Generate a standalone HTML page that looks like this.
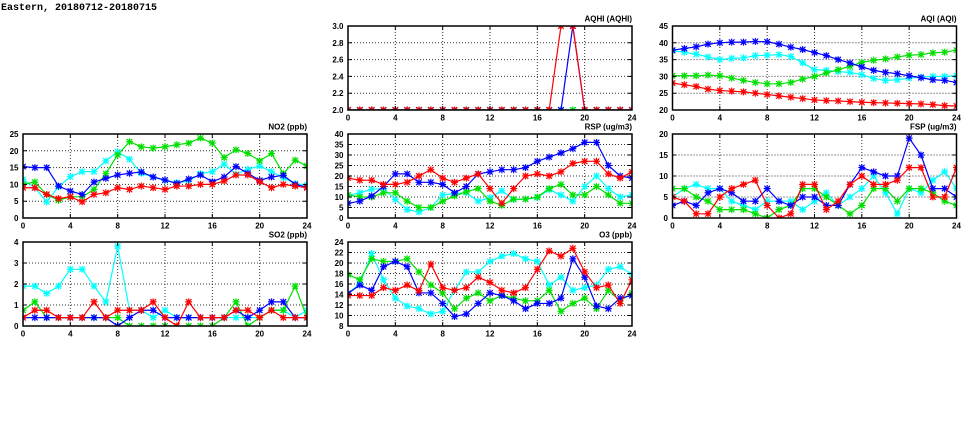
<!DOCTYPE html>
<html>
<head>
<meta charset="utf-8">
<style>
html,body{margin:0;padding:0;background:#fff;}
svg{display:block;}
text{font-family:"Liberation Sans",sans-serif;font-weight:bold;font-size:8px;fill:#000;}
.t{font-family:"Liberation Mono",monospace;font-size:10px;}
.e{text-anchor:end;}
.m{text-anchor:middle;}
.l{fill:none;stroke-width:1.2;vector-effect:non-scaling-stroke;stroke-linejoin:round;}
.c{stroke:#00ffff;} .g{stroke:#00e000;} .b{stroke:#0000ff;} .r{stroke:#ff0000;}
.grid{fill:none;stroke:#333;stroke-width:1;stroke-dasharray:1 2;}
.tk{fill:none;stroke:#000;stroke-width:1;}
.bx{fill:none;stroke:#000;stroke-width:1.5;}
</style>
</head>
<body>
<svg width="975" height="447" viewBox="0 0 975 447" xmlns="http://www.w3.org/2000/svg">
<defs>
<g id="sc" stroke="#00ffff" stroke-width="1.1"><rect x="-2.5" y="-2.5" width="5" height="5" fill="#00ffff" fill-opacity=".3" stroke="none"/><path d="M-3.5 0H3.5M0-3.5V3.5M-2.8-2.8L2.8 2.8M-2.8 2.8L2.8-2.8"/></g>
<g id="sg" stroke="#00e000" stroke-width="1.1"><rect x="-2.5" y="-2.5" width="5" height="5" fill="#00e000" fill-opacity=".3" stroke="none"/><path d="M-3.5 0H3.5M0-3.5V3.5M-2.8-2.8L2.8 2.8M-2.8 2.8L2.8-2.8"/></g>
<g id="sb" stroke="#0000ff" stroke-width="1.1"><rect x="-2.5" y="-2.5" width="5" height="5" fill="#0000ff" fill-opacity=".3" stroke="none"/><path d="M-3.5 0H3.5M0-3.5V3.5M-2.8-2.8L2.8 2.8M-2.8 2.8L2.8-2.8"/></g>
<g id="sr" stroke="#ff0000" stroke-width="1.1"><rect x="-2.5" y="-2.5" width="5" height="5" fill="#ff0000" fill-opacity=".3" stroke="none"/><path d="M-3.5 0H3.5M0-3.5V3.5M-2.8-2.8L2.8 2.8M-2.8 2.8L2.8-2.8"/></g>

<marker id="Ac" viewBox="-3.5 -3.5 7 7" preserveAspectRatio="none" markerUnits="userSpaceOnUse" markerWidth="0.5915" markerHeight="2.0833" refX="0" refY="0" overflow="visible"><use href="#sc"/></marker>
<marker id="Ag" viewBox="-3.5 -3.5 7 7" preserveAspectRatio="none" markerUnits="userSpaceOnUse" markerWidth="0.5915" markerHeight="2.0833" refX="0" refY="0" overflow="visible"><use href="#sg"/></marker>
<marker id="Ab" viewBox="-3.5 -3.5 7 7" preserveAspectRatio="none" markerUnits="userSpaceOnUse" markerWidth="0.5915" markerHeight="2.0833" refX="0" refY="0" overflow="visible"><use href="#sb"/></marker>
<marker id="Ar" viewBox="-3.5 -3.5 7 7" preserveAspectRatio="none" markerUnits="userSpaceOnUse" markerWidth="0.5915" markerHeight="2.0833" refX="0" refY="0" overflow="visible"><use href="#sr"/></marker>

<marker id="Sc" viewBox="-3.5 -3.5 7 7" preserveAspectRatio="none" markerUnits="userSpaceOnUse" markerWidth="0.5915" markerHeight="0.3333" refX="0" refY="0" overflow="visible"><use href="#sc"/></marker>
<marker id="Sg" viewBox="-3.5 -3.5 7 7" preserveAspectRatio="none" markerUnits="userSpaceOnUse" markerWidth="0.5915" markerHeight="0.3333" refX="0" refY="0" overflow="visible"><use href="#sg"/></marker>
<marker id="Sb" viewBox="-3.5 -3.5 7 7" preserveAspectRatio="none" markerUnits="userSpaceOnUse" markerWidth="0.5915" markerHeight="0.3333" refX="0" refY="0" overflow="visible"><use href="#sb"/></marker>
<marker id="Sr" viewBox="-3.5 -3.5 7 7" preserveAspectRatio="none" markerUnits="userSpaceOnUse" markerWidth="0.5915" markerHeight="0.3333" refX="0" refY="0" overflow="visible"><use href="#sr"/></marker>

<marker id="Hc" viewBox="-3.5 -3.5 7 7" preserveAspectRatio="none" markerUnits="userSpaceOnUse" markerWidth="0.5915" markerHeight="0.08333" refX="0" refY="0" overflow="visible"><use href="#sc"/></marker>
<marker id="Hg" viewBox="-3.5 -3.5 7 7" preserveAspectRatio="none" markerUnits="userSpaceOnUse" markerWidth="0.5915" markerHeight="0.08333" refX="0" refY="0" overflow="visible"><use href="#sg"/></marker>
<marker id="Hb" viewBox="-3.5 -3.5 7 7" preserveAspectRatio="none" markerUnits="userSpaceOnUse" markerWidth="0.5915" markerHeight="0.08333" refX="0" refY="0" overflow="visible"><use href="#sb"/></marker>
<marker id="Hr" viewBox="-3.5 -3.5 7 7" preserveAspectRatio="none" markerUnits="userSpaceOnUse" markerWidth="0.5915" markerHeight="0.08333" refX="0" refY="0" overflow="visible"><use href="#sr"/></marker>

<marker id="Rc" viewBox="-3.5 -3.5 7 7" preserveAspectRatio="none" markerUnits="userSpaceOnUse" markerWidth="0.5915" markerHeight="3.3333" refX="0" refY="0" overflow="visible"><use href="#sc"/></marker>
<marker id="Rg" viewBox="-3.5 -3.5 7 7" preserveAspectRatio="none" markerUnits="userSpaceOnUse" markerWidth="0.5915" markerHeight="3.3333" refX="0" refY="0" overflow="visible"><use href="#sg"/></marker>
<marker id="Rb" viewBox="-3.5 -3.5 7 7" preserveAspectRatio="none" markerUnits="userSpaceOnUse" markerWidth="0.5915" markerHeight="3.3333" refX="0" refY="0" overflow="visible"><use href="#sb"/></marker>
<marker id="Rr" viewBox="-3.5 -3.5 7 7" preserveAspectRatio="none" markerUnits="userSpaceOnUse" markerWidth="0.5915" markerHeight="3.3333" refX="0" refY="0" overflow="visible"><use href="#sr"/></marker>

<marker id="Oc" viewBox="-3.5 -3.5 7 7" preserveAspectRatio="none" markerUnits="userSpaceOnUse" markerWidth="0.5915" markerHeight="1.3333" refX="0" refY="0" overflow="visible"><use href="#sc"/></marker>
<marker id="Og" viewBox="-3.5 -3.5 7 7" preserveAspectRatio="none" markerUnits="userSpaceOnUse" markerWidth="0.5915" markerHeight="1.3333" refX="0" refY="0" overflow="visible"><use href="#sg"/></marker>
<marker id="Ob" viewBox="-3.5 -3.5 7 7" preserveAspectRatio="none" markerUnits="userSpaceOnUse" markerWidth="0.5915" markerHeight="1.3333" refX="0" refY="0" overflow="visible"><use href="#sb"/></marker>
<marker id="Or" viewBox="-3.5 -3.5 7 7" preserveAspectRatio="none" markerUnits="userSpaceOnUse" markerWidth="0.5915" markerHeight="1.3333" refX="0" refY="0" overflow="visible"><use href="#sr"/></marker>

<marker id="Fc" viewBox="-3.5 -3.5 7 7" preserveAspectRatio="none" markerUnits="userSpaceOnUse" markerWidth="0.5915" markerHeight="1.6667" refX="0" refY="0" overflow="visible"><use href="#sc"/></marker>
<marker id="Fg" viewBox="-3.5 -3.5 7 7" preserveAspectRatio="none" markerUnits="userSpaceOnUse" markerWidth="0.5915" markerHeight="1.6667" refX="0" refY="0" overflow="visible"><use href="#sg"/></marker>
<marker id="Fb" viewBox="-3.5 -3.5 7 7" preserveAspectRatio="none" markerUnits="userSpaceOnUse" markerWidth="0.5915" markerHeight="1.6667" refX="0" refY="0" overflow="visible"><use href="#sb"/></marker>
<marker id="Fr" viewBox="-3.5 -3.5 7 7" preserveAspectRatio="none" markerUnits="userSpaceOnUse" markerWidth="0.5915" markerHeight="1.6667" refX="0" refY="0" overflow="visible"><use href="#sr"/></marker>

<clipPath id="cNO2"><rect x="23" y="134" width="284" height="84"/></clipPath>
<clipPath id="cSO2"><rect x="23" y="242" width="284" height="84"/></clipPath>
<clipPath id="cAQHI"><rect x="348" y="26" width="284" height="84"/></clipPath>
<clipPath id="cRSP"><rect x="348" y="134" width="284" height="84"/></clipPath>
<clipPath id="cO3"><rect x="348" y="242" width="284" height="84"/></clipPath>
<clipPath id="cAQI"><rect x="672.5" y="26" width="284" height="84"/></clipPath>
<clipPath id="cFSP"><rect x="672.5" y="134" width="284" height="84"/></clipPath>

<path id="xt" d="M47.33 0v4M94.67 0v4M142 0v4M189.33 0v4M236.67 0v4"/>
</defs>

<text class="t" x="1" y="10">Eastern, 20180712-20180715</text>

<!-- ================= GRIDS ================= -->
<path class="grid" d="M70.33 134V218M117.67 134V218M165 134V218M212.33 134V218M259.67 134V218M23 201.2H307M23 184.4H307M23 167.6H307M23 150.8H307"/>
<path class="grid" d="M70.33 242V326M117.67 242V326M165 242V326M212.33 242V326M259.67 242V326M23 305H307M23 284H307M23 263H307"/>
<path class="grid" d="M395.33 26V110M442.67 26V110M490 26V110M537.33 26V110M584.67 26V110M348 93.2H632M348 76.4H632M348 59.6H632M348 42.8H632"/>
<path class="grid" d="M395.33 134V218M442.67 134V218M490 134V218M537.33 134V218M584.67 134V218M348 207.5H632M348 197H632M348 186.5H632M348 176H632M348 165.5H632M348 155H632M348 144.5H632"/>
<path class="grid" d="M395.33 242V326M442.67 242V326M490 242V326M537.33 242V326M584.67 242V326M348 315.5H632M348 305H632M348 294.5H632M348 284H632M348 273.5H632M348 263H632M348 252.5H632"/>
<path class="grid" d="M719.83 26V110M767.17 26V110M814.5 26V110M861.83 26V110M909.17 26V110M672.5 93.2H956.5M672.5 76.4H956.5M672.5 59.6H956.5M672.5 42.8H956.5"/>
<path class="grid" d="M719.83 134V218M767.17 134V218M814.5 134V218M861.83 134V218M909.17 134V218M672.5 197H956.5M672.5 176H956.5M672.5 155H956.5"/>

<!-- ================= NO2 ================= -->
<g clip-path="url(#cNO2)">
<g transform="translate(23,218) scale(11.8333,-3.36)">
<polyline class="l c" style="marker:url(#Ac)" points="0,11.5 1,9 2,4.8 3,9.3 4,12.3 5,13.8 6,13.8 7,17 8,19.7 9,17.5 10,13.3 11,12.2 12,11.2 13,10.5 14,11 15,13.2 16,13.8 17,16 18,13 19,14.5 20,15.5 21,13.8 22,12 23,10.2 24,9.8"/>
<polyline class="l g" style="marker:url(#Ag)" points="0,10 1,10.7 2,7 3,5.3 4,6.3 5,6.3 6,8.5 7,13.2 8,18.8 9,22.7 10,21.2 11,20.8 12,21.2 13,21.8 14,22.3 15,23.8 16,22.3 17,18 18,20.3 19,19.2 20,17 21,19.2 22,13.2 23,17.2 24,15.5"/>
<polyline class="l b" style="marker:url(#Ab)" points="0,15.3 1,15 2,15 3,9.5 4,8 5,7 6,10.7 7,11.8 8,12.8 9,13.3 10,13.7 11,12.2 12,11.3 13,10.3 14,11.6 15,12.8 16,10.8 17,12.2 18,15.3 19,13.3 20,11.2 21,12.2 22,12.7 23,10 24,9.2"/>
<polyline class="l r" style="marker:url(#Ar)" points="0,9 1,9 2,7 3,5.8 4,6.3 5,4.8 6,7 7,7.5 8,9 9,8.5 10,9.5 11,9 12,8.5 13,9.5 14,9.5 15,10 16,10 17,11 18,12.8 19,12.8 20,10.8 21,9 22,10 23,9.5 24,9"/>
</g></g>

<!-- ================= SO2 ================= -->
<g clip-path="url(#cSO2)">
<g transform="translate(23,326) scale(11.8333,-21)">
<polyline class="l c" style="marker:url(#Sc)" points="0,1.9 1,1.9 2,1.55 3,1.9 4,2.7 5,2.7 6,1.9 7,1.15 8,3.8 9,0.75 10,0.75 11,0.4 12,0.75 13,0.4 14,0.4 15,0.4 16,0.4 17,0.4 18,0.4 19,0.4 20,0.4 21,0.75 22,0.75 23,0.4 24,0.75"/>
<polyline class="l g" style="marker:url(#Sg)" points="0,0.75 1,1.15 2,0.4 3,0.4 4,0.4 5,0.4 6,0.4 7,0.4 8,0.4 9,0 10,0 11,0 12,0 13,0 14,0 15,0 16,0 17,0.4 18,1.15 19,0 20,0.4 21,0.75 22,0.75 23,1.9 24,0.4"/>
<polyline class="l b" style="marker:url(#Sb)" points="0,0.4 1,0.4 2,0.4 3,0.4 4,0.4 5,0.4 6,0.4 7,0.4 8,0 9,0.4 10,0.75 11,0.75 12,0.4 13,0.4 14,0.4 15,0.4 16,0.4 17,0.4 18,0.75 19,0.4 20,0.75 21,1.15 22,1.15 23,0.4 24,0.4"/>
<polyline class="l r" style="marker:url(#Sr)" points="0,0.4 1,0.75 2,0.75 3,0.4 4,0.4 5,0.4 6,1.15 7,0.4 8,0.75 9,0.75 10,0.75 11,1.15 12,0.4 13,0 14,1.15 15,0.4 16,0.4 17,0.4 18,0.75 19,0.75 20,0.4 21,0.75 22,0.4 23,0.4 24,0.4"/>
</g></g>

<!-- ================= AQHI ================= -->
<g clip-path="url(#cAQHI)">
<g transform="translate(348,110) scale(11.8333,-84) translate(0,-2)">
<polyline class="l c" style="marker:url(#Hc)" points="0,2 1,2 2,2 3,2 4,2 5,2 6,2 7,2 8,2 9,2 10,2 11,2 12,2 13,2 14,2 15,2 16,2 17,2 18,2 19,2 20,2 21,2 22,2 23,2 24,2"/>
<polyline class="l g" style="marker:url(#Hg)" points="0,2 1,2 2,2 3,2 4,2 5,2 6,2 7,2 8,2 9,2 10,2 11,2 12,2 13,2 14,2 15,2 16,2 17,2 18,2 19,2 20,2 21,2 22,2 23,2 24,2"/>
<polyline class="l b" style="marker:url(#Hb)" points="0,2 1,2 2,2 3,2 4,2 5,2 6,2 7,2 8,2 9,2 10,2 11,2 12,2 13,2 14,2 15,2 16,2 17,2 18,2 19,3 20,2 21,2 22,2 23,2 24,2"/>
<polyline class="l r" style="marker:url(#Hr)" points="0,2 1,2 2,2 3,2 4,2 5,2 6,2 7,2 8,2 9,2 10,2 11,2 12,2 13,2 14,2 15,2 16,2 17,2 18,3 19,3 20,2 21,2 22,2 23,2 24,2"/>
</g></g>

<!-- ================= RSP ================= -->
<g clip-path="url(#cRSP)">
<g transform="translate(348,218) scale(11.8333,-2.1)">
<polyline class="l c" style="marker:url(#Rc)" points="0,10.8 1,12 2,13.7 3,14 4,8.8 5,4 6,2.9 7,5 8,11 9,11.6 10,12 11,8 12,9.7 13,13 14,8.8 15,9 16,9.7 17,13.5 18,11 19,8 20,15 21,20 22,14 23,10 24,11"/>
<polyline class="l g" style="marker:url(#Rg)" points="0,11 1,10 2,10 3,12 4,12 5,8 6,5 7,5 8,8 9,10.5 10,12.5 11,14 12,8 13,6 14,9 15,9 16,10 17,14 18,16 19,11 20,11 21,15 22,11 23,7 24,7"/>
<polyline class="l b" style="marker:url(#Rb)" points="0,7 1,8 2,10.5 3,15 4,21 5,21 6,17 7,17 8,16 9,12 10,15 11,21 12,22 13,23 14,23 15,24 16,27 17,29 18,31 19,33 20,36 21,36 22,25 23,20 24,19"/>
<polyline class="l r" style="marker:url(#Rr)" points="0,19 1,18 2,18 3,16 4,16 5,17 6,20 7,23 8,19 9,17 10,19 11,21 12,14 13,7 14,14 15,20 16,21 17,20 18,22 19,26 20,27 21,27 22,21 23,19 24,22"/>
</g></g>

<!-- ================= O3 ================= -->
<g clip-path="url(#cO3)">
<g transform="translate(348,326) scale(11.8333,-5.25) translate(0,-8)">
<polyline class="l c" style="marker:url(#Oc)" points="0,14.2 1,16 2,21.8 3,16.8 4,13.3 5,11.8 6,11.3 7,10.3 8,10.8 9,14.8 10,18.3 11,18.3 12,20.3 13,21.3 14,21.8 15,20.8 16,20.3 17,15.8 18,17.3 19,14.8 20,15.3 21,15.8 22,18.8 23,19.3 24,17.8"/>
<polyline class="l g" style="marker:url(#Og)" points="0,17.8 1,16.8 2,20.8 3,20.3 4,20.3 5,20.8 6,18.3 7,15.8 8,14.3 9,11.3 10,13.3 11,14.3 12,12.8 13,13.8 14,13.3 15,12.8 16,12.8 17,14.8 18,10.8 19,12.3 20,13.3 21,11.3 22,14.8 23,12.8 24,14.3"/>
<polyline class="l b" style="marker:url(#Ob)" points="0,14.2 1,15.8 2,14.8 3,19.3 4,20.3 5,19.3 6,14.3 7,14.3 8,12.3 9,9.8 10,10.3 11,12.3 12,14.3 13,13.8 14,12.8 15,11.3 16,12.3 17,12.3 18,13.3 19,20.8 20,17.3 21,11.8 22,11.3 23,13.3 24,13.8"/>
<polyline class="l r" style="marker:url(#Or)" points="0,13.8 1,13.8 2,13.8 3,15.3 4,14.8 5,15.8 6,14.7 7,19.8 8,15.3 9,14.8 10,15.3 11,17.3 12,16.3 13,14.8 14,14.3 15,15.3 16,18.8 17,22.3 18,21.3 19,22.8 20,18.3 21,15.3 22,15.8 23,12.3 24,16.8"/>
</g></g>

<!-- ================= AQI ================= -->
<g clip-path="url(#cAQI)">
<g transform="translate(672.5,110) scale(11.8333,-3.36) translate(0,-20)">
<polyline class="l c" style="marker:url(#Ac)" points="0,37.6 1,37.2 2,36.6 3,35.8 4,35 5,35.4 6,35.5 7,36.2 8,36.3 9,36.5 10,35.9 11,34 12,32 13,31.8 14,31.4 15,31.2 16,30.5 17,29.4 18,28.8 19,29 20,29.5 21,29.8 22,30 23,30 24,30.2"/>
<polyline class="l g" style="marker:url(#Ag)" points="0,30.2 1,30.2 2,30.2 3,30.4 4,30.2 5,29.5 6,28.8 7,28.2 8,27.8 9,27.8 10,28.2 11,29.2 12,30 13,31 14,32 15,33 16,34.2 17,34.8 18,35.2 19,35.8 20,36.3 21,36.5 22,37 23,37.2 24,37.8"/>
<polyline class="l b" style="marker:url(#Ab)" points="0,37.8 1,38.3 2,38.8 3,39.6 4,40 5,40.2 6,40.2 7,40.4 8,40.3 9,39.6 10,38.7 11,38 12,37.1 13,36.2 14,35 15,34 16,32.8 17,31.8 18,31.2 19,30.8 20,30.2 21,29.6 22,29 23,28.8 24,28.2"/>
<polyline class="l r" style="marker:url(#Ar)" points="0,28 1,27.5 2,27 3,26.2 4,25.8 5,25.6 6,25.4 7,25 8,24.6 9,24.2 10,23.8 11,23.4 12,23 13,22.8 14,22.7 15,22.5 16,22.3 17,22.2 18,22.1 19,22 20,21.9 21,21.8 22,21.6 23,21.3 24,21.2"/>
</g></g>

<!-- ================= FSP ================= -->
<g clip-path="url(#cFSP)">
<g transform="translate(672.5,218) scale(11.8333,-4.2)">
<polyline class="l c" style="marker:url(#Fc)" points="0,5 1,7 2,8 3,7 4,7 5,4 6,3 7,2 8,4 9,4 10,4 11,2 12,4 13,6 14,3 15,5 16,7 17,10 18,6 19,1 20,7 21,6 22,9 23,11 24,7"/>
<polyline class="l g" style="marker:url(#Fg)" points="0,7 1,7 2,5 3,4 4,2 5,2 6,2 7,1 8,0 9,2 10,3 11,7 12,7 13,5 14,3 15,1 16,3 17,7 18,7 19,4 20,7 21,7 22,6 23,4 24,3"/>
<polyline class="l b" style="marker:url(#Fb)" points="0,3 1,4 2,3 3,6 4,7 5,6 6,4 7,4 8,7 9,4 10,3 11,5 12,5 13,3 14,3 15,8 16,12 17,11 18,10 19,10 20,19 21,15 22,7 23,7 24,5"/>
<polyline class="l r" style="marker:url(#Fr)" points="0,5 1,4 2,1 3,1 4,5 5,7 6,8 7,9 8,3 9,0 10,1 11,8 12,8 13,2 14,4 15,8 16,10 17,8 18,8 19,9 20,12 21,12 22,5 23,5 24,12"/>
</g></g>

<!-- ================= BORDERS & TICKS ================= -->
<g class="tk">
<use href="#xt" transform="translate(23,134)"/><use href="#xt" transform="translate(23,218) scale(1,-1)"/>
<use href="#xt" transform="translate(23,242)"/><use href="#xt" transform="translate(23,326) scale(1,-1)"/>
<use href="#xt" transform="translate(348,26)"/><use href="#xt" transform="translate(348,110) scale(1,-1)"/>
<use href="#xt" transform="translate(348,134)"/><use href="#xt" transform="translate(348,218) scale(1,-1)"/>
<use href="#xt" transform="translate(348,242)"/><use href="#xt" transform="translate(348,326) scale(1,-1)"/>
<use href="#xt" transform="translate(672.5,26)"/><use href="#xt" transform="translate(672.5,110) scale(1,-1)"/>
<use href="#xt" transform="translate(672.5,134)"/><use href="#xt" transform="translate(672.5,218) scale(1,-1)"/>
<path d="M23 201.2h4M23 184.4h4M23 167.6h4M23 150.8h4M307 201.2h-4M307 184.4h-4M307 167.6h-4M307 150.8h-4"/>
<path d="M23 305h4M23 284h4M23 263h4M307 305h-4M307 284h-4M307 263h-4"/>
<path d="M348 93.2h4M348 76.4h4M348 59.6h4M348 42.8h4M632 93.2h-4M632 76.4h-4M632 59.6h-4M632 42.8h-4"/>
<path d="M348 207.5h4M348 197h4M348 186.5h4M348 176h4M348 165.5h4M348 155h4M348 144.5h4M632 207.5h-4M632 197h-4M632 186.5h-4M632 176h-4M632 165.5h-4M632 155h-4M632 144.5h-4"/>
<path d="M348 315.5h4M348 305h4M348 294.5h4M348 284h4M348 273.5h4M348 263h4M348 252.5h4M632 315.5h-4M632 305h-4M632 294.5h-4M632 284h-4M632 273.5h-4M632 263h-4M632 252.5h-4"/>
<path d="M672.5 93.2h4M672.5 76.4h4M672.5 59.6h4M672.5 42.8h4M956.5 93.2h-4M956.5 76.4h-4M956.5 59.6h-4M956.5 42.8h-4"/>
<path d="M672.5 197h4M672.5 176h4M672.5 155h4M956.5 197h-4M956.5 176h-4M956.5 155h-4"/>
</g>
<rect class="bx" x="23" y="134" width="284" height="84"/>
<rect class="bx" x="23" y="242" width="284" height="84"/>
<rect class="bx" x="348" y="26" width="284" height="84"/>
<rect class="bx" x="348" y="134" width="284" height="84"/>
<rect class="bx" x="348" y="242" width="284" height="84"/>
<rect class="bx" x="672.5" y="26" width="284" height="84"/>
<rect class="bx" x="672.5" y="134" width="284" height="84"/>

<!-- ================= TITLES ================= -->
<text class="e" x="632" y="21.5">AQHI (AQHI)</text>
<text class="e" x="956.5" y="21.5">AQI (AQI)</text>
<text class="e" x="307" y="129.5">NO2 (ppb)</text>
<text class="e" x="632" y="129.5">RSP (ug/m3)</text>
<text class="e" x="956.5" y="129.5">FSP (ug/m3)</text>
<text class="e" x="307" y="237.5">SO2 (ppb)</text>
<text class="e" x="632" y="237.5">O3 (ppb)</text>

<!-- ================= Y LABELS ================= -->
<g class="e">
<text x="18.5" y="221">0</text><text x="18.5" y="204.2">5</text><text x="18.5" y="187.4">10</text><text x="18.5" y="170.6">15</text><text x="18.5" y="153.8">20</text><text x="18.5" y="137">25</text>
<text x="18.5" y="329">0</text><text x="18.5" y="308">1</text><text x="18.5" y="287">2</text><text x="18.5" y="266">3</text><text x="18.5" y="245">4</text>
<text x="343.5" y="113">2.0</text><text x="343.5" y="96.2">2.2</text><text x="343.5" y="79.4">2.4</text><text x="343.5" y="62.6">2.6</text><text x="343.5" y="45.8">2.8</text><text x="343.5" y="29">3.0</text>
<text x="343.5" y="221">0</text><text x="343.5" y="210.5">5</text><text x="343.5" y="200">10</text><text x="343.5" y="189.5">15</text><text x="343.5" y="179">20</text><text x="343.5" y="168.5">25</text><text x="343.5" y="158">30</text><text x="343.5" y="147.5">35</text><text x="343.5" y="137">40</text>
<text x="343.5" y="329">8</text><text x="343.5" y="318.5">10</text><text x="343.5" y="308">12</text><text x="343.5" y="297.5">14</text><text x="343.5" y="287">16</text><text x="343.5" y="276.5">18</text><text x="343.5" y="266">20</text><text x="343.5" y="255.5">22</text><text x="343.5" y="245">24</text>
<text x="668" y="113">20</text><text x="668" y="96.2">25</text><text x="668" y="79.4">30</text><text x="668" y="62.6">35</text><text x="668" y="45.8">40</text><text x="668" y="29">45</text>
<text x="668" y="221">0</text><text x="668" y="200">5</text><text x="668" y="179">10</text><text x="668" y="158">15</text><text x="668" y="137">20</text>
</g>

<!-- ================= X LABELS ================= -->
<g class="m">
<text x="23" y="228.5">0</text><text x="70.33" y="228.5">4</text><text x="117.67" y="228.5">8</text><text x="165" y="228.5">12</text><text x="212.33" y="228.5">16</text><text x="259.67" y="228.5">20</text><text x="307" y="228.5">24</text>
<text x="23" y="336.5">0</text><text x="70.33" y="336.5">4</text><text x="117.67" y="336.5">8</text><text x="165" y="336.5">12</text><text x="212.33" y="336.5">16</text><text x="259.67" y="336.5">20</text><text x="307" y="336.5">24</text>
<text x="348" y="120.5">0</text><text x="395.33" y="120.5">4</text><text x="442.67" y="120.5">8</text><text x="490" y="120.5">12</text><text x="537.33" y="120.5">16</text><text x="584.67" y="120.5">20</text><text x="632" y="120.5">24</text>
<text x="348" y="228.5">0</text><text x="395.33" y="228.5">4</text><text x="442.67" y="228.5">8</text><text x="490" y="228.5">12</text><text x="537.33" y="228.5">16</text><text x="584.67" y="228.5">20</text><text x="632" y="228.5">24</text>
<text x="348" y="336.5">0</text><text x="395.33" y="336.5">4</text><text x="442.67" y="336.5">8</text><text x="490" y="336.5">12</text><text x="537.33" y="336.5">16</text><text x="584.67" y="336.5">20</text><text x="632" y="336.5">24</text>
<text x="672.5" y="120.5">0</text><text x="719.83" y="120.5">4</text><text x="767.17" y="120.5">8</text><text x="814.5" y="120.5">12</text><text x="861.83" y="120.5">16</text><text x="909.17" y="120.5">20</text><text x="956.5" y="120.5">24</text>
<text x="672.5" y="228.5">0</text><text x="719.83" y="228.5">4</text><text x="767.17" y="228.5">8</text><text x="814.5" y="228.5">12</text><text x="861.83" y="228.5">16</text><text x="909.17" y="228.5">20</text><text x="956.5" y="228.5">24</text>
</g>
</svg>
</body>
</html>
